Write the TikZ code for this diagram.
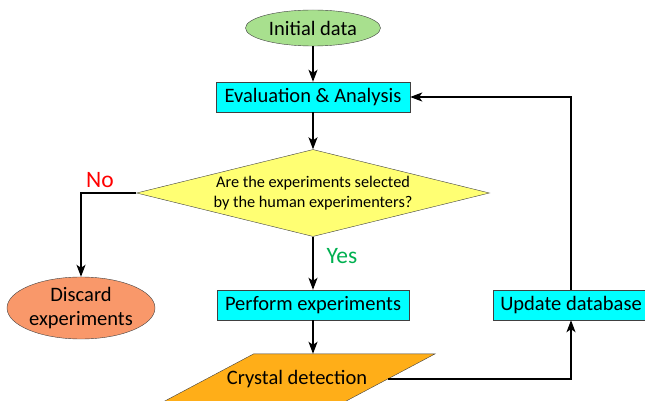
\documentclass[tikz,border=0pt]{standalone}
\usepackage{fontspec}
\setmainfont{Carlito}
\usepackage{tikz}
\usetikzlibrary{positioning}
\usetikzlibrary{arrows.meta,shapes}
\usetikzlibrary{shapes.geometric}
\usetikzlibrary{backgrounds}
\definecolor{startgreen}{RGB}{168,224,142}
\definecolor{boxcyan}{RGB}{0,255,255}
\definecolor{askyellow}{RGB}{255,255,115}
\definecolor{dropsalmon}{RGB}{249,152,106}
\definecolor{detorange}{RGB}{255,174,24}
\definecolor{yesgreen}{RGB}{0,176,80}
\tikzstyle{startnode}=[ellipse,draw=black!75,fill=startgreen,minimum width=135pt,minimum height=36pt,inner sep=0pt,font=\fontsize{20.5}{24}\selectfont]
\tikzstyle{process}=[rectangle,draw=black!75,fill=boxcyan,minimum height=30pt,inner sep=0pt,font=\fontsize{20.5}{24}\selectfont]
\tikzstyle{decision}=[diamond,draw=black!75,fill=askyellow,aspect=4,inner sep=0pt,minimum width=353pt,minimum height=87pt,align=center,font=\fontsize{16.3}{20}\selectfont]
\tikzstyle{stopnode}=[ellipse,draw=black!75,fill=dropsalmon,minimum width=148pt,minimum height=62pt,inner sep=0pt,align=center,font=\fontsize{20.5}{24}\selectfont]
\tikzstyle{detect}=[rectangle,minimum width=181pt,minimum height=50pt,inner sep=0pt,font=\fontsize{20.5}{24}\selectfont]
\tikzstyle{detectshape}=[draw=black!75,fill=detorange]
\tikzstyle{edge} = [draw,line width=1.3pt,-{Stealth[length=12pt,width=9pt,inset=3pt]}]
\tikzstyle{answer} = [font=\fontsize{23.5}{26}\selectfont]

\begin{document}
\begin{tikzpicture}[x=1pt,y=-1pt]

\useasboundingbox (0,0) rectangle (645,401);

% flow nodes
    \node[startnode] (init) at (313,28) {Initial data};
    \node[process, minimum width=194pt] (eval) at (313,97) {Evaluation \& Analysis};
    \node[decision] (ask) at (313,193) {Are the experiments selected\\by the human experimenters?};
    \node[stopnode] (discard) at (81,308) {Discard\\experiments};
    \node[process, minimum width=192pt] (perform) at (313,305) {Perform experiments};
    \node[detect] (crystal) at (297,379) {Crystal detection};
    \node[process, minimum width=156pt] (update) at (571,305) {Update database};

    % slanted box behind the detection text
    \begin{scope}[on background layer]
    \path[detectshape] ([xshift=47.5pt]crystal.north west) -- ([xshift=47.5pt]crystal.north east)
          -- ([xshift=-47.5pt]crystal.south east) -- ([xshift=-47.5pt]crystal.south west) -- cycle;
    \end{scope}

    % answers
    \node[answer, text=red] (no) at (100,180) {No};
    \node[answer, text=yesgreen] (yes) at (342,256) {Yes};

    % straight arrows
   \foreach \source/ \dest in {init/eval, eval/ask, ask/perform}
          \path[edge] (\source) -- (\dest);
    \path[edge] (perform) -- (perform |- crystal.north);

    % bends
    \path[edge] (ask.west) -| (discard.north);
    \path[edge] (crystal.east) -| (update.south);
    \path[edge] (update.north) |- (eval.east);

\end{tikzpicture}
\end{document}
